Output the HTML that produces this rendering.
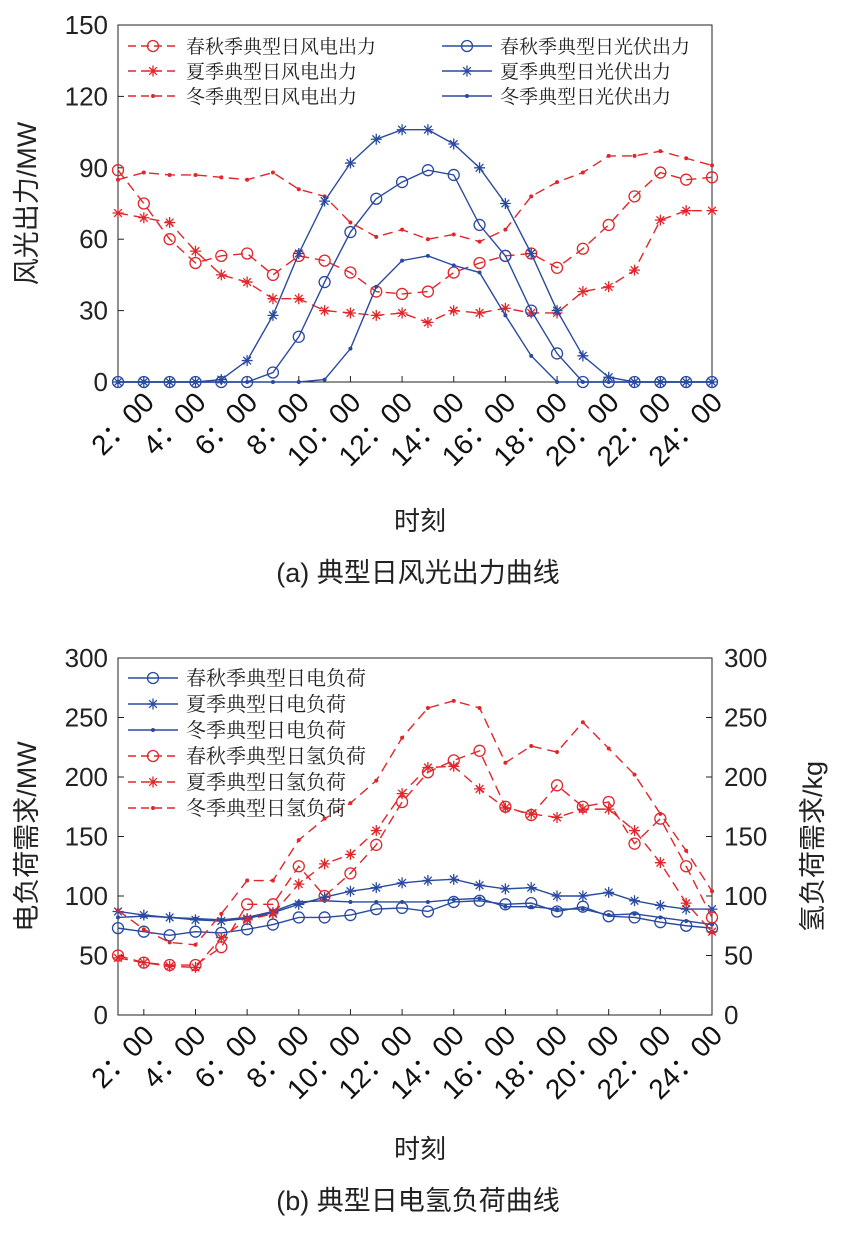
<!DOCTYPE html>
<html><head><meta charset="utf-8"><style>
body{margin:0;background:#fff;}
svg{display:block;font-family:"Liberation Sans","Noto Sans CJK SC",sans-serif;}
</style></head><body>
<svg id="s" width="841" height="1238" viewBox="0 0 841 1238"></svg>
<script>
const hours=[1,2,3,4,5,6,7,8,9,10,11,12,13,14,15,16,17,18,19,20,21,22,23,24];
const tickHours=[2,4,6,8,10,12,14,16,18,20,22,24];
const ticksA=[0,30,60,90,120,150];
const ticksB=[0,50,100,150,200,250,300];
const springWind=[89,75,60,50,53,54,45,53,51,46,38,37,38,46,50,53,54,48,56,66,78,88,85,86];
const summerWind=[71,69,67,55,45,42,35,35,30,29,28,29,25,30,29,31,29,29,38,40,47,68,72,72];
const winterWind=[85,88,87,87,86,85,88,81,78,67,61,64,60,62,59,64,78,84,88,95,95,97,94,91];
const springPV=[0,0,0,0,0,0,4,19,42,63,77,84,89,87,66,53,30,12,0,0,0,0,0,0];
const summerPV=[0,0,0,0,1,9,28,54,76,92,102,106,106,100,90,75,54,30,11,2,0,0,0,0];
const winterPV=[0,0,0,0,0,0,0,0,1,14,40,51,53,49,46,28,11,0,0,0,0,0,0,0];
const springElec=[73,70,67,70,69,72,76,82,82,84,89,90,87,95,96,93,94,87,91,83,82,78,75,73];
const summerElec=[87,84,82,80,79,81,86,93,99,104,107,111,113,114,109,106,107,100,100,103,96,92,89,89];
const winterElec=[82,83,82,81,80,82,87,95,96,95,95,95,95,97,98,91,91,89,89,84,85,82,79,76];
const springH2=[50,44,42,42,57,93,93,125,100,119,143,179,204,214,222,175,168,193,175,179,144,165,125,82];
const summerH2=[48,44,41,40,65,80,85,110,127,135,155,186,208,209,190,174,169,166,173,173,155,128,94,70];
const winterH2=[88,72,61,59,85,113,113,147,165,178,197,233,258,264,258,212,226,221,246,224,202,169,138,104];

const NS="http://www.w3.org/2000/svg";
const svg=document.getElementById('s');
const RED="#e0262b",BLUE="#2a4aa0";
function el(tag,attrs,parent){const e=document.createElementNS(NS,tag);for(const k in attrs)e.setAttribute(k,attrs[k]);(parent||svg).appendChild(e);return e;}
function txt(s,attrs,parent){const t=el('text',attrs,parent);t.textContent=s;return t;}

function marker(g,type,x,y,color){
  if(type==='o'){el('circle',{cx:x,cy:y,r:5.5,fill:'none',stroke:color,'stroke-width':1.3},g);}
  else if(type==='*'){const r=5.5;
    el('path',{d:`M${x-r} ${y}H${x+r}M${x} ${y-r}V${y+r}M${x-r*.7} ${y-r*.7}L${x+r*.7} ${y+r*.7}M${x-r*.7} ${y+r*.7}L${x+r*.7} ${y-r*.7}`,stroke:color,'stroke-width':1.3},g);}
  else {el('circle',{cx:x,cy:y,r:2,fill:color},g);}
}

function chart(cfg){
  const L=118,R=712,T=cfg.top,B=cfg.bottom;
  const xs=h=>L+(h-1)*(R-L)/23;
  const ys=v=>B-v*(B-T)/cfg.max;
  const g=el('g',{});
  
  
  el('rect',{x:L,y:T,width:R-L,height:B-T,fill:'none',stroke:'#222','stroke-width':1},g);
  cfg.ticks.forEach(v=>{
    const y=ys(v);
    el('line',{x1:L,y1:y,x2:L+6,y2:y,stroke:'#222'},g);
    const t=txt(String(v),{x:L-10,y:y+9,'text-anchor':'end','font-size':26,fill:'#222'},g);
    
    if(cfg.right){el('line',{x1:R,y1:y,x2:R-6,y2:y,stroke:'#222'},g);
      const t2=txt(String(v),{x:R+12,y:y+9,'font-size':26,fill:'#222'},g);
      }
  });
  tickHours.forEach(h=>{
    const x=xs(h);
    el('line',{x1:x,y1:B,x2:x,y2:B-6,stroke:'#222'},g);
    const t=txt(h+'：00',{x:x+12,y:B+22,'text-anchor':'end','font-size':28,fill:'#111',transform:`rotate(-45 ${x+12} ${B+22})`},g);
    
  });
  cfg.series.forEach(s=>{
    const sg=el('g',{},g);
    
    
    const pts=hours.map((h,i)=>xs(h)+','+ys(s.data[i])).join(' ');
    el('polyline',{points:pts,fill:'none',stroke:s.color,'stroke-width':1.4,'stroke-dasharray':s.dash?'10,6':'none'},sg);
    hours.forEach((h,i)=>marker(sg,s.m,xs(h),ys(s.data[i]),s.color));
  });
  cfg.legend.forEach(l=>{
    const s=cfg.series[l.i];
    const lg=el('g',{},g);
    
    
    el('line',{x1:l.x,y1:l.y,x2:l.x+50,y2:l.y,stroke:s.color,'stroke-width':1.4,'stroke-dasharray':s.dash?'8,5':'none'},lg);
    marker(lg,s.m,l.x+25,l.y,s.color);
    txt(s.label,{x:l.x+58,y:l.y+7,'font-size':l.fs||19,fill:'#222','font-family':'"Noto Serif CJK SC","Liberation Serif",serif'},lg);
  });
  const yt=txt(cfg.ylabel,{x:0,y:0,'text-anchor':'middle','font-size':27,fill:'#222',transform:`translate(36 ${(T+B)/2}) rotate(-90)`},g);
  
  if(cfg.y2label){const y2=txt(cfg.y2label,{x:0,y:0,'text-anchor':'middle','font-size':27,fill:'#222',transform:`translate(822 ${(T+B)/2+10}) rotate(-90)`},g);
    }
  const xt=txt('时刻',{x:420,y:cfg.xtitleY,'text-anchor':'middle','font-size':26,fill:'#222'},g);
  
  const ct=txt(cfg.caption,{x:418,y:cfg.captionY,'text-anchor':'middle','font-size':27,fill:'#222'},g);
  
}

chart({name:'wind-pv-chart',top:25,bottom:382,max:150,ticks:ticksA,ylabel:'风光出力/MW',caption:'(a) 典型日风光出力曲线',xtitleY:530,captionY:582,
  series:[
    {id:'spring-wind',data:springWind,color:RED,m:'o',dash:true,label:'春秋季典型日风电出力'},
    {id:'summer-wind',data:summerWind,color:RED,m:'*',dash:true,label:'夏季典型日风电出力'},
    {id:'winter-wind',data:winterWind,color:RED,m:'.',dash:true,label:'冬季典型日风电出力'},
    {id:'spring-pv',data:springPV,color:BLUE,m:'o',dash:false,label:'春秋季典型日光伏出力'},
    {id:'summer-pv',data:summerPV,color:BLUE,m:'*',dash:false,label:'夏季典型日光伏出力'},
    {id:'winter-pv',data:winterPV,color:BLUE,m:'.',dash:false,label:'冬季典型日光伏出力'}],
  legend:[{i:0,x:128,y:46},{i:1,x:128,y:71},{i:2,x:128,y:96},{i:3,x:442,y:46},{i:4,x:442,y:71},{i:5,x:442,y:96}]});

chart({name:'load-chart',top:658,bottom:1015,max:300,ticks:ticksB,right:true,ylabel:'电负荷需求/MW',y2label:'氢负荷需求/kg',caption:'(b) 典型日电氢负荷曲线',xtitleY:1158,captionY:1210,
  series:[
    {id:'spring-elec',data:springElec,color:BLUE,m:'o',dash:false,label:'春秋季典型日电负荷'},
    {id:'summer-elec',data:summerElec,color:BLUE,m:'*',dash:false,label:'夏季典型日电负荷'},
    {id:'winter-elec',data:winterElec,color:BLUE,m:'.',dash:false,label:'冬季典型日电负荷'},
    {id:'spring-h2',data:springH2,color:RED,m:'o',dash:true,label:'春秋季典型日氢负荷'},
    {id:'summer-h2',data:summerH2,color:RED,m:'*',dash:true,label:'夏季典型日氢负荷'},
    {id:'winter-h2',data:winterH2,color:RED,m:'.',dash:true,label:'冬季典型日氢负荷'}],
  legend:[{i:0,x:128,y:678,fs:20},{i:1,x:128,y:704,fs:20},{i:2,x:128,y:730,fs:20},{i:3,x:128,y:756,fs:20},{i:4,x:128,y:782,fs:20},{i:5,x:128,y:808,fs:20}]});
</script>
</body></html>
